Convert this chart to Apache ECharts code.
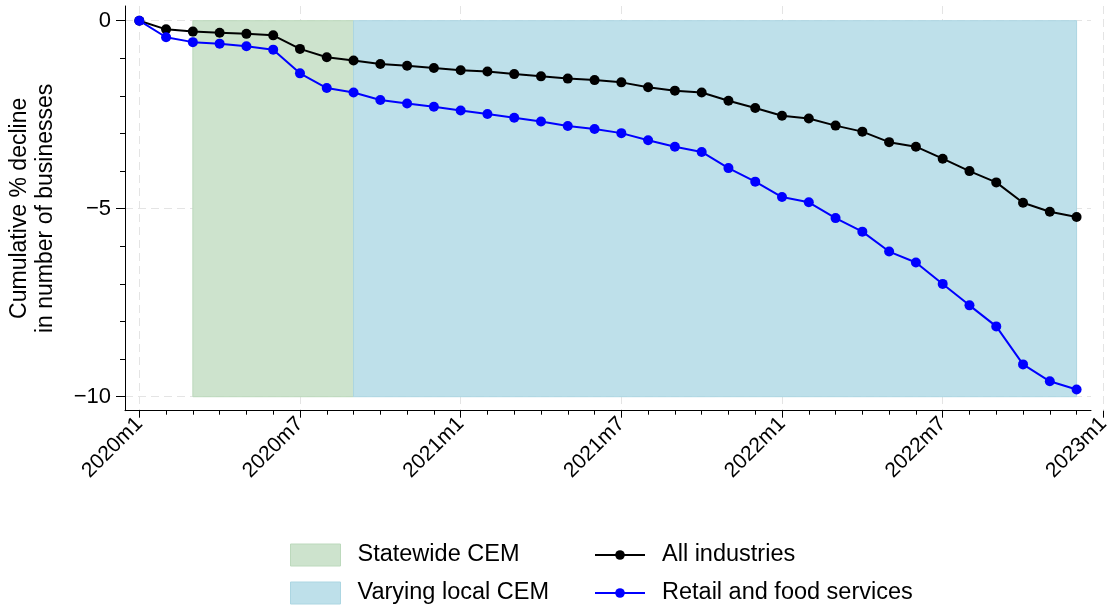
<!DOCTYPE html>
<html>
<head>
<meta charset="utf-8">
<script src="https://cdn.jsdelivr.net/npm/echarts@6/dist/echarts.min.js"></script>
<style>html,body{margin:0;padding:0;background:#fff}#c{width:1107px;height:606px}</style>
</head>
<body>
<div id="c"></div>
<script>
const months = ['2020m1','2020m2','2020m3','2020m4','2020m5','2020m6','2020m7','2020m8','2020m9','2020m10','2020m11','2020m12',
  '2021m1','2021m2','2021m3','2021m4','2021m5','2021m6','2021m7','2021m8','2021m9','2021m10','2021m11','2021m12',
  '2022m1','2022m2','2022m3','2022m4','2022m5','2022m6','2022m7','2022m8','2022m9','2022m10','2022m11','2022m12'];
const allIndustries = [0,-0.23,-0.29,-0.32,-0.35,-0.39,-0.75,-0.97,-1.06,-1.15,-1.20,-1.26,
  -1.32,-1.35,-1.42,-1.48,-1.54,-1.58,-1.64,-1.77,-1.86,-1.91,-2.13,-2.32,
  -2.53,-2.60,-2.79,-2.95,-3.23,-3.35,-3.67,-4.00,-4.30,-4.84,-5.08,-5.22];
const retailFood = [0,-0.44,-0.57,-0.61,-0.68,-0.77,-1.40,-1.79,-1.91,-2.11,-2.20,-2.29,
  -2.39,-2.48,-2.58,-2.68,-2.80,-2.88,-2.99,-3.18,-3.35,-3.49,-3.92,-4.28,
  -4.69,-4.83,-5.25,-5.61,-6.14,-6.43,-7.00,-7.57,-8.13,-9.14,-9.59,-9.81];
const xTickLabels = ['2020m1','2020m7','2021m1','2021m7','2022m1','2022m7','2023m1'];
const yTickValues = [0,-5,-10];
const yMinorTicks = [-1,-2,-3,-4,-6,-7,-8,-9];
const statewideCEM = ['2020m3','2020m9'];
const localCEM = ['2020m9','2022m12'];
const shadeRange = [0,-10];

const monthIndex = s => { const p = s.split('m').map(Number); return (p[0]-2020)*12 + (p[1]-1); };
const xTickPos = xTickLabels.map(monthIndex);
const xMinorPos = months.map(monthIndex).filter(v => xTickPos.indexOf(v) < 0);
const toPairs = arr => arr.map((v,i) => [monthIndex(months[i]), v]);

const FONT = 'Liberation Sans, Arial, Helvetica, sans-serif';
const FS = 21;
const FS_Y = 22;
const FS_TITLE = 23;
const FS_LEG = 23.5;
const GREEN = '#cde3cd', GREEN_EDGE = '#bcd9bc';
const BLUE = '#bee0ea', BLUE_EDGE = '#acd6e2';
const X_MIN = -0.534, X_MAX_A = 35.538, X_MAX_B = 36.096;
const Y_MIN = -10.372, Y_MAX = 0.391;
const gridBase = {left:125, top:6, bottom:195.3, outerBoundsMode:'none'};
const dash = {color:'#e4e4e4', width:1, type:[8,5]};

const chart = echarts.init(document.getElementById('c'), null, {renderer:'canvas'});
chart.setOption({
  animation:false,
  textStyle:{fontFamily:FONT},
  grid:[Object.assign({right:16}, gridBase), Object.assign({right:1}, gridBase), Object.assign({right:1}, gridBase)],
  xAxis:[
    {gridIndex:0, type:'value', min:X_MIN, max:X_MAX_A,
      axisLine:{show:true, onZero:false, lineStyle:{color:'#000', width:1}},
      axisTick:{show:false}, axisLabel:{show:false}, splitLine:{show:false}},
    {gridIndex:1, type:'value', min:X_MIN, max:X_MAX_B,
      axisLine:{show:false, onZero:false},
      axisTick:{show:true, length:7, customValues:xTickPos, lineStyle:{color:'#000', width:1}},
      axisLabel:{show:true, customValues:xTickPos, rotate:45, margin:10, color:'#000', fontSize:FS, fontFamily:FONT,
        formatter: v => xTickLabels[xTickPos.indexOf(Math.round(v))] || ''},
      splitLine:{show:true, lineStyle:dash}},
    {gridIndex:2, type:'value', min:X_MIN, max:X_MAX_B,
      axisLine:{show:false, onZero:false},
      axisTick:{show:true, length:4, customValues:xMinorPos, lineStyle:{color:'#000', width:1}},
      axisLabel:{show:false}, splitLine:{show:false}}
  ],
  yAxis:[
    {gridIndex:0, type:'value', min:Y_MIN, max:Y_MAX,
      axisLine:{show:true, onZero:false, lineStyle:{color:'#000', width:1}},
      axisTick:{show:true, length:9, customValues:yTickValues, lineStyle:{color:'#000', width:1}},
      axisLabel:{show:true, customValues:yTickValues, margin:14, color:'#000', fontSize:FS_Y, fontFamily:FONT,
        formatter: v => String(Math.round(v)).replace('-', '\u2212')},
      splitLine:{show:true, lineStyle:dash},
      name:'Cumulative % decline\nin number of businesses', nameLocation:'middle', nameRotate:90, nameGap:66,
      nameTextStyle:{fontSize:FS_TITLE, lineHeight:26, color:'#000', fontFamily:FONT}},
    {gridIndex:1, type:'value', min:Y_MIN, max:Y_MAX, show:false},
    {gridIndex:2, type:'value', min:Y_MIN, max:Y_MAX,
      axisLine:{show:false, onZero:false},
      axisTick:{show:true, length:5, customValues:yMinorTicks, lineStyle:{color:'#000', width:1}},
      axisLabel:{show:false}, splitLine:{show:false}}
  ],
  legend:[
    {data:[{name:'Statewide CEM', icon:'rect', itemStyle:{borderColor:GREEN_EDGE, borderWidth:1}},
           {name:'Varying local CEM', icon:'rect', itemStyle:{borderColor:BLUE_EDGE, borderWidth:1}}],
      orient:'vertical', left:290, top:543, height:70, itemWidth:50, itemHeight:22, itemGap:14, padding:0, selectedMode:false,
      textStyle:{fontSize:FS_LEG, lineHeight:22, color:'#000', fontFamily:FONT, padding:[0,0,0,12]}},
    {data:['All industries','Retail and food services'],
      orient:'vertical', left:594, top:543, height:70, itemWidth:50, itemHeight:12, itemGap:14, padding:0, selectedMode:false,
      textStyle:{fontSize:FS_LEG, lineHeight:22, color:'#000', fontFamily:FONT, padding:[0,0,0,12]}}
  ],
  series:[
    {name:'Statewide CEM', type:'line', xAxisIndex:0, yAxisIndex:0, data:[], color:GREEN, itemStyle:{color:GREEN},
      markArea:{silent:true, label:{show:false}, itemStyle:{color:GREEN, opacity:1, borderColor:GREEN_EDGE, borderWidth:1},
        data:[[{xAxis:monthIndex(statewideCEM[0]), yAxis:shadeRange[0]},{xAxis:monthIndex(statewideCEM[1]), yAxis:shadeRange[1]}]]}},
    {name:'Varying local CEM', type:'line', xAxisIndex:0, yAxisIndex:0, data:[], color:BLUE, itemStyle:{color:BLUE},
      markArea:{silent:true, label:{show:false}, itemStyle:{color:BLUE, opacity:1, borderColor:BLUE_EDGE, borderWidth:1},
        data:[[{xAxis:monthIndex(localCEM[0]), yAxis:shadeRange[0]},{xAxis:monthIndex(localCEM[1]), yAxis:shadeRange[1]}]]}},
    {name:'All industries', type:'line', xAxisIndex:0, yAxisIndex:0, data:toPairs(allIndustries),
      color:'#000', symbol:'circle', symbolSize:10, showAllSymbol:true, lineStyle:{color:'#000', width:2}, itemStyle:{color:'#000'}, z:5},
    {name:'Retail and food services', type:'line', xAxisIndex:0, yAxisIndex:0, data:toPairs(retailFood),
      color:'#0000ff', symbol:'circle', symbolSize:10, showAllSymbol:true, lineStyle:{color:'#0000ff', width:2}, itemStyle:{color:'#0000ff'}, z:6}
  ]
});
</script>
</body>
</html>
